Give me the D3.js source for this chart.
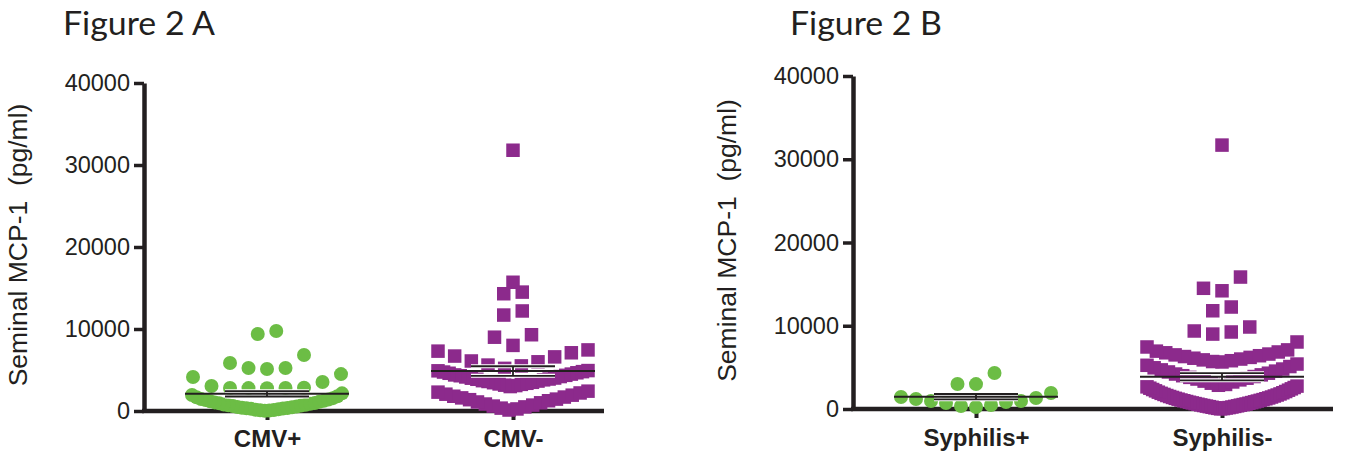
<!DOCTYPE html>
<html>
<head>
<meta charset="utf-8">
<script src="https://cdn.jsdelivr.net/npm/d3@7/dist/d3.min.js"></script>
<style>
  body { margin: 0; background: #fff; }
  svg text { fill: #231f20; }
</style>
</head>
<body>
<div id="main"></div>
<script>
// values, seminal MCP-1 in pg/ml
const cmvCategories = ["CMV+", "CMV-"];
const syphCategories = ["Syphilis+", "Syphilis-"];

const cmvPos = [9760, 9390, 6830, 5850, 5240, 5240, 5120, 4500, 4150, 3540, 3050,
  2780, 2800, 2810, 2830, 2790,
  25, 60, 90, 110, 150, 200, 260, 300, 330, 370, 400, 450, 490, 540, 600, 660, 700,
  750, 800, 870, 930, 980, 1050, 1120, 1180, 1250, 1330, 1400, 1460, 1570, 1680, 1800,
  1950, 2150];

const cmvNeg = [31800, 15700, 14500, 14300, 12200, 11700, 9300, 9000, 8000,
  7450, 7300, 7100, 6700, 6600, 6100, 6000, 5600, 5500, 5200,
  2980, 3100, 3150, 3250, 3300, 3380, 3450, 3500, 3600, 3650, 3700, 3800, 3870, 3900,
  4000, 4020, 4150, 4200, 4300, 4350, 4400, 4500, 4600, 4660, 4750, 4800, 4900, 4930,
  120, 250, 350, 500, 600, 720, 850, 1000, 1100, 1250, 1380, 1450, 1600, 1700, 1800,
  1930, 2050, 2200, 2300, 2420];

const syphPos = [1920, 1320, 960, 840, 480, 240, 360, 720, 960, 1200, 1440, 2990, 3010, 4320];

const syphNeg = [31700, 15850, 14500, 14200, 12250, 11800, 9850, 9370, 9250, 9000,
  8050, 7450, 7100, 6950, 6850, 6750, 6600, 6500, 6400, 6300, 6200, 6100, 6000, 5900,
  5800, 5700, 5650,
  5400, 5250, 5100, 4950, 4800, 4700, 4550, 4450, 4300, 4200, 4100, 4000, 3900, 3800,
  3700, 3600, 3500, 3350, 3250, 3100, 2950, 2850,
  20, 50, 80, 120, 140, 170, 210, 240, 280, 310, 350, 380, 420, 460, 490, 530, 570, 600,
  650, 690, 730, 770, 810, 860, 900, 950, 990, 1040, 1080, 1130, 1180, 1230, 1280, 1330,
  1390, 1440, 1500, 1560, 1620, 1680, 1750, 1810, 1880, 1950, 2020, 2100, 2180, 2260,
  2340, 2420, 2500, 2580, 2660, 2750];

const yTicks = [0, 10000, 20000, 30000, 40000];
const yTitle = "Seminal MCP-1\u00a0\u00a0(pg/ml)";

const green = "#6cbd45";
const purple = "#8c2a8c";

class GraficoDispersao {
  constructor(config) {
    this.config = config;
    this.svg = config.svg;
    this.x = null;
    this.y = null;
  }

  createScales() {
    const c = this.config;
    this.y = d3.scaleLinear().domain([0, 40000]).range([c.bottom, c.top]);
    this.x = d3.scalePoint().domain(c.categories).range([c.left, c.left + 492]).padding(0.5);
  }

  // prism-like rows: bin by value, lowest value in the middle, squeeze wide rows
  layout(values) {
    const c = this.config;
    const out = [];
    d3.group(values, v => Math.floor(v / c.rowStep)).forEach(row => {
      row = row.slice().sort(d3.ascending);
      const n = row.length;
      const gap = n > 1 ? Math.min(18.5, 150 / (n - 1)) : 0;
      const slots = d3.range(n).map(i => i - (n - 1) / 2);
      slots.sort((a, b) => Math.abs(a) - Math.abs(b) || a - b);
      row.forEach((v, i) => out.push({ value: v, dx: slots[i] * gap }));
    });
    return out.sort((a, b) => a.value - b.value);
  }

  createAxis() {
    const c = this.config;

    const yAxis = this.svg.append("g")
      .attr("transform", `translate(${c.left},0)`)
      .call(d3.axisLeft(this.y).tickValues(yTicks).tickSize(10).tickSizeOuter(0).tickPadding(4).tickFormat(d3.format("d")));
    yAxis.select(".domain").attr("stroke", "#231f20").attr("stroke-width", 4.5);
    yAxis.selectAll(".tick line").attr("stroke", "#231f20").attr("stroke-width", 3.5);
    yAxis.selectAll(".tick text")
      .style("font-family", "'Liberation Sans', Arial, sans-serif")
      .style("font-size", "23.5px");

    const xAxis = this.svg.append("g")
      .attr("transform", `translate(0,${c.bottom})`)
      .call(d3.axisBottom(this.x).tickSize(9).tickSizeOuter(0));
    xAxis.select(".domain").remove();
    xAxis.selectAll(".tick line").attr("stroke", "#231f20").attr("stroke-width", 4);
    xAxis.selectAll(".tick text")
      .attr("y", c.labelY).attr("dy", 0)
      .style("font-family", "'Liberation Sans', Arial, sans-serif")
      .style("font-size", "24px")
      .style("font-weight", "bold");

    this.svg.append("line")
      .attr("x1", c.left - 2).attr("x2", c.axisEnd)
      .attr("y1", c.bottom).attr("y2", c.bottom)
      .attr("stroke", "#231f20").attr("stroke-width", 4.5);

    this.svg.append("text")
      .attr("transform", `translate(${c.left - 117},${(c.top + c.bottom) / 2 - 2}) rotate(-90)`)
      .attr("text-anchor", "middle")
      .style("font-family", "'Liberation Sans', Arial, sans-serif")
      .style("font-size", "26.5px")
      .text(yTitle);

    this.svg.append("text")
      .attr("x", c.titleX).attr("y", 35)
      .attr("textLength", 152).attr("lengthAdjust", "spacingAndGlyphs")
      .style("font-family", "Lato, 'Open Sans', sans-serif")
      .style("font-size", "33px")
      .text(c.title);
  }

  createPoints() {
    const c = this.config;
    c.categories.forEach((cat, i) => {
      const values = c.series[i];
      const cx = this.x(cat);
      const pts = this.layout(values);
      const g = this.svg.append("g");
      if (i === 0) {
        g.selectAll("circle").data(pts).enter().append("circle")
          .attr("cx", d => cx + d.dx)
          .attr("cy", d => this.y(d.value))
          .attr("r", 7)
          .attr("fill", green);
      } else {
        g.selectAll("rect").data(pts).enter().append("rect")
          .attr("x", d => cx + d.dx - 6.75)
          .attr("y", d => this.y(d.value) - 6.75)
          .attr("width", 13.5).attr("height", 13.5)
          .attr("fill", purple);
      }

      const mean = d3.mean(values);
      const sem = d3.deviation(values) / Math.sqrt(values.length);
      const bars = this.svg.append("g").attr("fill", "none");
      const segs = [
        [cx - 42, this.y(mean + sem), cx + 42, this.y(mean + sem)],
        [cx - 42, this.y(mean - sem), cx + 42, this.y(mean - sem)],
        [cx, this.y(mean + sem), cx, this.y(mean - sem)]
      ];
      bars.selectAll(".halo").data(segs).enter().append("line")
        .attr("x1", d => d[0]).attr("y1", d => d[1]).attr("x2", d => d[2]).attr("y2", d => d[3])
        .attr("stroke", "#fff").attr("stroke-width", 4);
      bars.selectAll(".bar").data(segs).enter().append("line")
        .attr("x1", d => d[0]).attr("y1", d => d[1]).attr("x2", d => d[2]).attr("y2", d => d[3])
        .attr("stroke", "#231f20").attr("stroke-width", 1.8);
      bars.append("line")
        .attr("x1", cx - 82).attr("x2", cx + 82)
        .attr("y1", this.y(mean)).attr("y2", this.y(mean))
        .attr("stroke", "#231f20").attr("stroke-width", 2);
    });
  }
}

function main() {
  const svg = d3.select("#main").append("svg")
    .attr("width", 1348).attr("height", 455);

  const a = new GraficoDispersao({
    svg: svg, title: "Figure 2 A", titleX: 63,
    categories: cmvCategories, series: [cmvPos, cmvNeg],
    left: 144, top: 83, bottom: 411, axisEnd: 604, labelY: 36, rowStep: 2500
  });
  a.createScales();
  a.createAxis();
  a.createPoints();

  const b = new GraficoDispersao({
    svg: svg, title: "Figure 2 B", titleX: 790,
    categories: syphCategories, series: [syphPos, syphNeg],
    left: 853, top: 76, bottom: 409, axisEnd: 1333, labelY: 37, rowStep: 2800
  });
  b.createScales();
  b.createAxis();
  b.createPoints();
}

main();
</script>
</body>
</html>
